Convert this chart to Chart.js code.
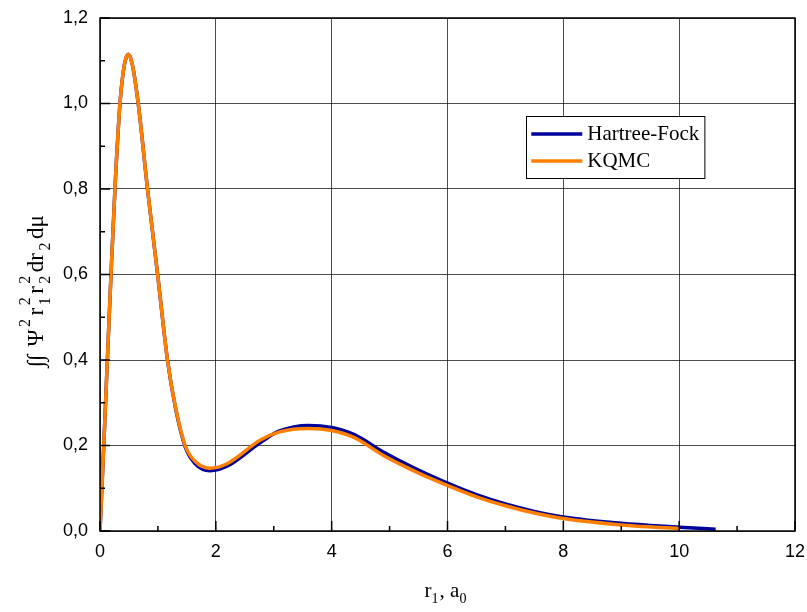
<!DOCTYPE html>
<html>
<head>
<meta charset="utf-8">
<script src="https://cdn.jsdelivr.net/npm/chart.js@4/dist/chart.umd.min.js"></script>
<style>
  html, body { margin: 0; padding: 0; background: #fff; }
  #wrap { width: 807px; height: 612px; }
</style>
</head>
<body>
<div id="wrap"><canvas id="chart" width="807" height="612"></canvas></div>
<script>
// ===== data =====
const hfX  = [0, 0.065, 0.127, 0.19, 0.258, 0.345, 0.42, 0.49, 0.56, 0.66, 0.82, 0.995, 1.165, 1.30, 1.47, 1.64, 1.90, 2.2, 2.77, 3.1, 3.6, 4.0, 4.4, 4.9, 5.4, 5.88, 6.5, 7.03, 7.5, 8.0, 9.0, 10.0, 10.63];
const hfY  = [0, 0.2, 0.4, 0.6, 0.8, 1.0, 1.09, 1.115, 1.09, 1.0, 0.8, 0.6, 0.4, 0.29, 0.197, 0.158, 0.141, 0.152, 0.207, 0.234, 0.247, 0.242, 0.225, 0.184, 0.149, 0.119, 0.085, 0.062, 0.046, 0.033, 0.018, 0.009, 0.004];

const kqX  = [0, 0.065, 0.127, 0.19, 0.258, 0.345, 0.42, 0.49, 0.56, 0.66, 0.82, 0.995, 1.165, 1.30, 1.47, 1.64, 1.90, 2.2, 2.77, 3.1, 3.6, 4.0, 4.4, 4.9, 5.4, 5.88, 6.5, 7.03, 7.5, 8.0, 9.0, 10.0];
const kqY  = [0, 0.2, 0.4, 0.6, 0.8, 1.0, 1.09, 1.115, 1.09, 1.0, 0.8, 0.6, 0.4, 0.292, 0.2, 0.163, 0.147, 0.158, 0.213, 0.232, 0.240, 0.235, 0.218, 0.176, 0.142, 0.113, 0.080, 0.058, 0.042, 0.029, 0.014, 0.006];

const xTicks = [0, 2, 4, 6, 8, 10, 12];
const xMinor = [1, 3, 5, 7, 9, 11];
const yTicks = [0, 0.2, 0.4, 0.6, 0.8, 1.0, 1.2];
const yMinor = [0.1, 0.3, 0.5, 0.7, 0.9, 1.1];

const seriesNames = ['Hartree-Fock', 'KQMC'];
const seriesColors = ['#00009c', '#ff8000'];

const toPts = (xs, ys) => xs.map((x, i) => ({ x: x, y: ys[i] }));
const fmt = v => v.toFixed(1).replace('.', ',');

const SERIF = '"Liberation Serif", "Times New Roman", serif';
const SANS = '"Liberation Sans", Arial, sans-serif';

// draw text with sub/superscripts; tokens: {t} | {sub, sup}
function richText(ctx, tokens, x, y, opt) {
  const big = opt.big + 'px ' + SERIF, small = opt.small + 'px ' + SERIF;
  const gap = opt.gap || 0;
  const widths = tokens.map(tk => {
    if (tk.t !== undefined) { ctx.font = big; return ctx.measureText(tk.t).width + gap; }
    ctx.font = small;
    return Math.max(tk.sub ? ctx.measureText(tk.sub).width : 0, tk.sup ? ctx.measureText(tk.sup).width : 0) + 1 + gap;
  });
  const total = widths.reduce((a, b) => a + b, 0);
  let cx = x - total / 2;
  ctx.textBaseline = 'alphabetic';
  ctx.textAlign = 'left';
  tokens.forEach((tk, i) => {
    if (tk.t !== undefined) {
      ctx.font = big; ctx.fillText(tk.t, cx, y);
    } else {
      ctx.font = small;
      if (tk.sub) ctx.fillText(tk.sub, cx, y + opt.subOff);
      if (tk.sup) ctx.fillText(tk.sup, cx, y - opt.supOff);
    }
    cx += widths[i];
  });
}

const decor = {
  id: 'decor',
  afterDatasetsDraw(chart) {
    const { ctx, chartArea: a, scales: { x, y } } = chart;
    ctx.save();
    ctx.strokeStyle = '#000';
    // inward ticks on left and bottom
    ctx.lineWidth = 1.5;
    ctx.beginPath();
    xTicks.forEach(v => { const px = x.getPixelForValue(v); ctx.moveTo(px, a.bottom); ctx.lineTo(px, a.bottom - 10); });
    xMinor.forEach(v => { const px = x.getPixelForValue(v); ctx.moveTo(px, a.bottom); ctx.lineTo(px, a.bottom - 5); });
    yTicks.forEach(v => { const py = y.getPixelForValue(v); ctx.moveTo(a.left, py); ctx.lineTo(a.left + 10, py); });
    yMinor.forEach(v => { const py = y.getPixelForValue(v); ctx.moveTo(a.left, py); ctx.lineTo(a.left + 5, py); });
    ctx.stroke();
    // frame
    ctx.lineWidth = 1.5;
    ctx.strokeRect(a.left, a.top, a.right - a.left, a.bottom - a.top);

    // legend box
    const lx = x.getPixelForValue(7.36), rx = x.getPixelForValue(10.44);
    const ty = y.getPixelForValue(0.971), by = y.getPixelForValue(0.826);
    ctx.fillStyle = '#fff';
    ctx.fillRect(lx, ty, rx - lx, by - ty);
    ctx.lineWidth = 1;
    ctx.strokeStyle = '#000';
    ctx.strokeRect(Math.round(lx) + 0.5, Math.round(ty) + 0.5, rx - lx, by - ty);
    const rows = [ty + 18, ty + 45];
    seriesNames.forEach((name, i) => {
      ctx.strokeStyle = seriesColors[i];
      ctx.lineWidth = 3.5;
      ctx.beginPath();
      ctx.moveTo(lx + 5, rows[i]); ctx.lineTo(lx + 56, rows[i]);
      ctx.stroke();
      ctx.fillStyle = '#000';
      ctx.font = '21px ' + SERIF;
      ctx.textAlign = 'left';
      ctx.textBaseline = 'middle';
      ctx.fillText(name, lx + 61, rows[i] + 1);
    });

    // axis titles
    ctx.fillStyle = '#000';
    richText(ctx, [{ t: 'r' }, { sub: '1' }, { t: ', a' }, { sub: '0' }], 446, 597,
      { big: 21, small: 14, subOff: 6, supOff: 10 });
    ctx.translate(43, 290);
    ctx.rotate(-Math.PI / 2);
    richText(ctx, [{ t: '\u222B\u222B' }, { t: ' \u03A8' }, { sup: '2' }, { t: 'r' }, { sub: '1', sup: '2' }, { t: 'r' }, { sub: '2', sup: '2' }, { t: 'dr' }, { sub: '2' }, { t: 'd\u03BC' }], 0, 0,
      { big: 23, small: 16, subOff: 7, supOff: 13, gap: 2.5 });
    ctx.restore();
  }
};

new Chart(document.getElementById('chart'), {
  type: 'scatter',
  data: {
    datasets: [{
      label: seriesNames[0],
      data: toPts(hfX, hfY),
      showLine: true,
      borderColor: seriesColors[0],
      borderWidth: 3.5,
      pointRadius: 0,
      cubicInterpolationMode: 'monotone',
      order: 1
    }, {
      label: seriesNames[1],
      data: toPts(kqX, kqY),
      showLine: true,
      borderColor: seriesColors[1],
      borderWidth: 3.5,
      pointRadius: 0,
      cubicInterpolationMode: 'monotone',
      order: 0
    }]
  },
  options: {
    responsive: false,
    animation: false,
    layout: { padding: { left: 0, top: 18, right: 12, bottom: 0 } },
    plugins: { legend: { display: false }, tooltip: { enabled: false } },
    scales: {
      x: {
        type: 'linear', min: 0, max: 12,
        afterFit: s => { s.height = 81; s.paddingLeft = 0; s.paddingRight = 0; },
        afterBuildTicks: s => { s.ticks = xTicks.map(v => ({ value: v })); },
        ticks: { color: '#000', font: { family: SANS, size: 18 }, padding: 10, callback: v => String(v) },
        grid: { color: 'rgba(0,0,0,0.7)', lineWidth: 1, drawTicks: false },
        border: { display: false }
      },
      y: {
        type: 'linear', min: 0, max: 1.2,
        afterFit: s => { s.width = 100; s.paddingTop = 0; s.paddingBottom = 0; },
        afterBuildTicks: s => { s.ticks = yTicks.map(v => ({ value: v })); },
        ticks: { color: '#000', font: { family: SANS, size: 18 }, padding: 12, callback: v => fmt(v) },
        grid: { color: 'rgba(0,0,0,0.7)', lineWidth: 1, drawTicks: false },
        border: { display: false }
      }
    }
  },
  plugins: [decor]
});
</script>
</body>
</html>
